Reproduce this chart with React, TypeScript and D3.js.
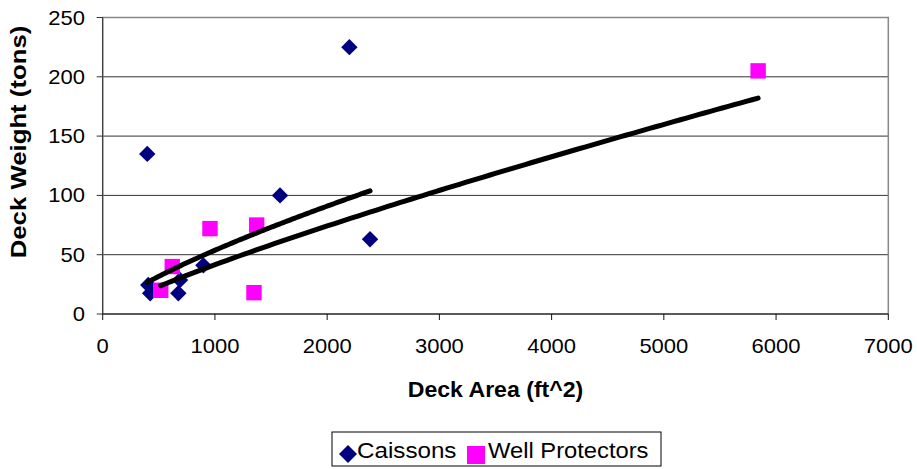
import React from "react";
import * as d3 from "d3";

const caissonArea = [397, 2198, 1580, 2382, 897, 674, 423, 689, 406];
const caissonWeight = [135, 225, 100, 63, 41, 17.5, 17.5, 28.7, 24.5];
const wellArea = [517, 620, 956, 1348, 1372, 5840];
const wellWeight = [20, 40, 72, 18, 75, 205];
// power trendlines y = a * x^b
const caissonTrend = [0.284, 0.759];
const wellTrend = [0.1277, 0.8374];
const xTicks = [0, 1000, 2000, 3000, 4000, 5000, 6000, 7000];
const yTicks = [0, 50, 100, 150, 200, 250];
const seriesNames = ["Caissons", "Well Protectors"];

function trend(xs: number[], coef: number[]) {
  const [lo, hi] = d3.extent(xs) as [number, number];
  return d3.range(0, 101).map((i) => {
    const x = lo + ((hi - lo) * i) / 100;
    return [x, coef[0] * Math.pow(x, coef[1])] as [number, number];
  });
}

export default function App() {
  const W = 917, H = 469;
  const x = d3.scaleLinear().domain([0, 7000]).range([102.7, 888.3]);
  const y = d3.scaleLinear().domain([0, 250]).range([314, 17.5]);
  const line = d3.line<[number, number]>().x((d) => x(d[0])).y((d) => y(d[1]));
  const cFit = trend(caissonArea, caissonTrend);
  const wFit = trend(wellArea, wellTrend);
  const font = "'Liberation Sans', Arial, sans-serif";
  const ds = 8.2;
  const sq = 7.7;
  const diamond = (cx: number, cy: number, r: number) =>
    `M${cx},${cy - r}L${cx + r},${cy}L${cx},${cy + r}L${cx - r},${cy}Z`;

  return (
    <svg width={W} height={H} style={{ position: "absolute", left: 0, top: 0, background: "#fff" }} fontFamily={font}>
      <rect x={0} y={0} width={W} height={H} fill="#fff" />
      {yTicks.slice(1).map((t) => (
        <line key={t} x1={x(0)} x2={x(7000)} y1={y(t)} y2={y(t)} stroke="#333" strokeWidth={1} />
      ))}
      <rect x={x(0)} y={y(250)} width={x(7000) - x(0)} height={y(0) - y(250)} fill="none" stroke="#888" strokeWidth={1.5} />
      <line x1={x(0)} x2={x(0)} y1={y(250)} y2={y(0)} stroke="#333" strokeWidth={1} />
      <line x1={x(0)} x2={x(7000)} y1={y(0)} y2={y(0)} stroke="#111" strokeWidth={1.2} />
      {yTicks.map((t) => (
        <g key={t}>
          <line x1={x(0) - 6} x2={x(0)} y1={y(t)} y2={y(t)} stroke="#333" />
          <text transform={`translate(85,${y(t)}) scale(1.1,1)`} dy="0.35em" textAnchor="end" fontSize={20} fill="#000">
            {t}
          </text>
        </g>
      ))}
      {xTicks.map((t) => (
        <g key={t}>
          <line x1={x(t)} x2={x(t)} y1={y(0)} y2={y(0) + 6} stroke="#111" />
          <text transform={`translate(${x(t)},352.5) scale(1.1,1)`} textAnchor="middle" fontSize={20} fill="#000">
            {t}
          </text>
        </g>
      ))}
      <text transform={`translate(495.5,397) scale(1.05,1)`} textAnchor="middle" fontSize={22} fontWeight="bold" fill="#000">
        Deck Area (ft^2)
      </text>
      <text transform={`translate(26,142) rotate(-90) scale(1.17,1)`} textAnchor="middle" fontSize={22} fontWeight="bold" fill="#000">
        Deck Weight (tons)
      </text>
      {caissonArea.map((a, i) => (
        <path key={"c" + i} d={diamond(x(a), y(caissonWeight[i]), ds)} fill="#000080" />
      ))}
      {wellArea.map((a, i) => (
        <rect key={"w" + i} x={x(a) - sq} y={y(wellWeight[i]) - sq} width={2 * sq} height={2 * sq} fill="#FF00FF" />
      ))}
      <path d={line(cFit)!} fill="none" stroke="#000" strokeWidth={5} strokeLinecap="round" />
      <path d={line(wFit)!} fill="none" stroke="#000" strokeWidth={5} strokeLinecap="round" />
      <rect x={332} y={432} width={329} height={34} fill="#fff" stroke="#000" strokeWidth={1} />
      <path d={diamond(348, 454, 9)} fill="#000080" />
      <text transform="translate(357,457.5) scale(1.1,1)" fontSize={22} fill="#000">{seriesNames[0]}</text>
      <rect x={467} y={446} width={18} height={18} fill="#FF00FF" />
      <text transform="translate(488,457.5) scale(1.08,1)" fontSize={22} fill="#000">{seriesNames[1]}</text>
    </svg>
  );
}
